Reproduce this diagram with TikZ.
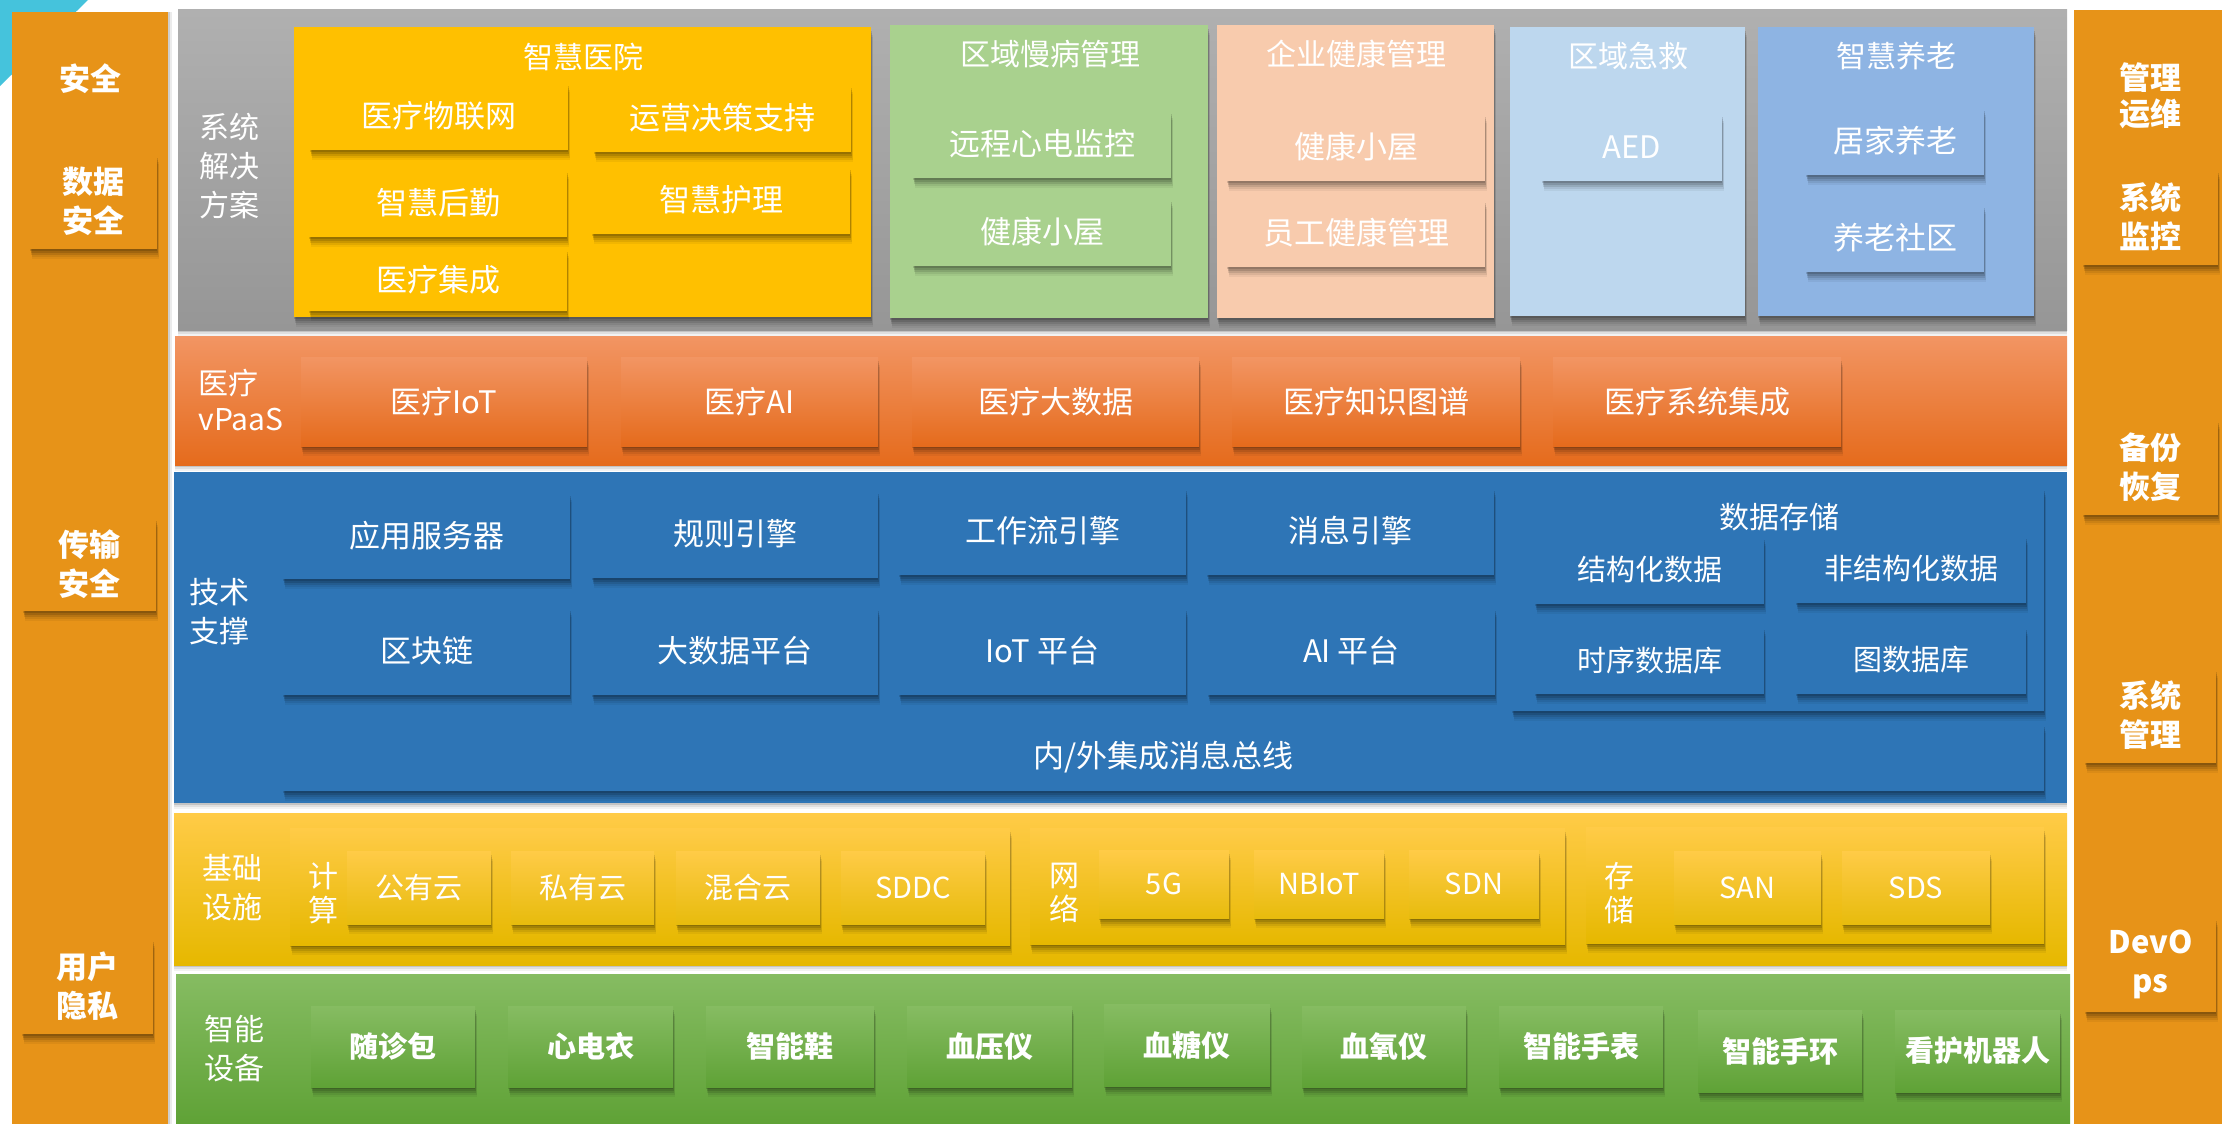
\documentclass[tikz,border=0pt]{standalone}
\usepackage{fontspec}
\setmainfont{Noto Sans CJK SC}
\usetikzlibrary{shadows}
\definecolor{sideor}{HTML}{E79318}
\definecolor{cyanc}{HTML}{45C3DC}
\definecolor{grayT}{HTML}{B0B0B0}
\definecolor{grayB}{HTML}{969696}
\definecolor{hosp}{HTML}{FFC000}
\definecolor{chron}{HTML}{A9D18E}
\definecolor{peach}{HTML}{F8CBAD}
\definecolor{ltblue}{HTML}{BDD7EE}
\definecolor{mdblue}{HTML}{8EB4E3}
\definecolor{vpT}{HTML}{F29563}
\definecolor{vpB}{HTML}{E56B1C}
\definecolor{tech}{HTML}{2E75B6}
\definecolor{infT}{HTML}{FFCB47}
\definecolor{infB}{HTML}{E6B800}
\definecolor{devT}{HTML}{86BC62}
\definecolor{devB}{HTML}{5FA236}
\newcommand\bx[7]{\node[#6, minimum width={(#4)-(#2)}, minimum height={(#5)-(#3)}] (#1) at ({((#2)+(#4))/2},{((#3)+(#5))/2}) {#7};}
\begin{document}
\begin{tikzpicture}[x=1pt,y=-1pt,
  base/.style={inner sep=0pt, outer sep=0pt, text=white, align=center, font=\fontsize{31}{38}\selectfont},
  softshadow/.style={
    drop shadow={shadow xshift=0pt, shadow yshift=-2pt, opacity=.14, fill=black},
    drop shadow={shadow xshift=1pt, shadow yshift=-4pt, opacity=.12, fill=black},
    drop shadow={shadow xshift=1pt, shadow yshift=-6pt, opacity=.10, fill=black},
    drop shadow={shadow xshift=2pt, shadow yshift=-8pt, opacity=.07, fill=black},
    drop shadow={shadow xshift=2pt, shadow yshift=-10pt, opacity=.05, fill=black}},
  bandshadow/.style={
    drop shadow={shadow xshift=0pt, shadow yshift=-2pt, opacity=.12, fill=black},
    drop shadow={shadow xshift=0pt, shadow yshift=-4pt, opacity=.08, fill=black},
    drop shadow={shadow xshift=0pt, shadow yshift=-6pt, opacity=.05, fill=black}},
  band/.style={base, bandshadow},
  sub/.style={base, softshadow},
  small/.style={font=\fontsize{29}{36}\selectfont},
  sidebar/.style={base, fill=sideor,
    drop shadow={shadow xshift=2pt, shadow yshift=0pt, opacity=0.12, fill=black},
    drop shadow={shadow xshift=4pt, shadow yshift=0pt, opacity=0.08, fill=black}},
  sidesub/.style={sub, fill=sideor, font=\bfseries\fontsize{31}{39}\selectfont},
  lbl/.style={inner sep=0pt, text=white, align=center, font=\fontsize{30}{39}\selectfont},
  lblb/.style={inner sep=0pt, text=white, align=center, font=\bfseries\fontsize{31}{36}\selectfont},
  vpsub/.style={sub, top color=vpT, bottom color=vpB},
  techsub/.style={sub, fill=tech},
  infsub/.style={sub, top color=infT, bottom color=infB!95!white, small},
  infbox/.style={sub, top color=infT, bottom color=infB},
  devsub/.style={sub, top color=devT, bottom color=devB, font=\bfseries\fontsize{29}{36}\selectfont}
]
\useasboundingbox (0,0) rectangle (2222,1124);
\fill[white] (0,0) rectangle (2222,1124);
\fill[cyanc] (0,0) -- (88,0) -- (0,86) -- cycle;

% side bars
\bx{lbar}{12}{12}{168}{1124}{sidebar}{}
\node[lblb] (lt) at (90,79) {安全};
\bx{l1}{30}{154}{157}{249}{sidesub}{数据\\安全}
\bx{l2}{23}{517}{156}{611}{sidesub}{传输\\安全}
\bx{l3}{22}{938}{153}{1034}{sidesub}{用户\\隐私}

\bx{rbar}{2074}{10}{2222}{1124}{sidebar}{}
\node[lblb] (rt) at (2150,96) {管理\\运维};
\bx{r1}{2083}{169}{2218}{265}{sidesub}{系统\\监控}
\bx{r2}{2083}{419}{2218}{515}{sidesub}{备份\\恢复}
\bx{r3}{2085}{668}{2216}{763}{sidesub}{系统\\管理}
\bx{r4}{2085}{917}{2216}{1012}{sidesub}{DevO\\ps}

% solutions layer
\bx{sol}{178}{10}{2067}{330}{band, top color=grayT, bottom color=grayB}{}
\node[lbl] (solt) at (229,166) {系统\\解决\\方案};

\bx{hosp}{294}{27}{871}{317}{sub, fill=hosp}{}
\node[lbl] (hospt) at (583,57) {智慧医院};
\bx{h1}{310}{82}{568}{150}{sub, fill=hosp}{医疗物联网}
\bx{h2}{594}{84}{851}{152}{sub, fill=hosp}{运营决策支持}
\bx{h3}{309}{169}{567}{237}{sub, fill=hosp}{智慧后勤}
\bx{h4}{592}{166}{850}{234}{sub, fill=hosp}{智慧护理}
\bx{h5}{309}{248}{567}{311}{sub, fill=hosp}{医疗集成}

\bx{chr}{890}{25}{1208}{318}{sub, fill=chron}{}
\node[lbl] (chrt) at (1050,54) {区域慢病管理};
\bx{c1}{913}{110}{1171}{178}{sub, fill=chron}{远程心电监控}
\bx{c2}{913}{198}{1171}{266}{sub, fill=chron}{健康小屋}

\bx{ent}{1217}{25}{1494}{318}{sub, fill=peach}{}
\node[lbl] (entt) at (1356,54) {企业健康管理};
\bx{e1}{1227}{113}{1485}{181}{sub, fill=peach}{健康小屋}
\bx{e2}{1227}{199}{1485}{267}{sub, fill=peach}{员工健康管理}

\bx{emg}{1510}{27}{1745}{316}{sub, fill=ltblue}{}
\node[lbl] (emgt) at (1628,56) {区域急救};
\bx{a1}{1542}{113}{1722}{181}{sub, fill=ltblue}{AED}

\bx{eld}{1758}{27}{2034}{316}{sub, fill=mdblue}{}
\node[lbl] (eldt) at (1896,56) {智慧养老};
\bx{o1}{1806}{107}{1984}{175}{sub, fill=mdblue}{居家养老}
\bx{o2}{1806}{204}{1984}{272}{sub, fill=mdblue}{养老社区}

% vPaaS layer
\bx{vp}{175}{336}{2067}{465}{band, top color=vpT, bottom color=vpB}{}
\node[lbl, align=left, font=\fontsize{30}{36}\selectfont] (vpt) at (241,400) {医疗\\vPaaS};
\bx{v1}{301}{357}{587}{446}{vpsub}{医疗IoT}
\bx{v2}{621}{357}{878}{446}{vpsub}{医疗AI}
\bx{v3}{912}{357}{1199}{446}{vpsub}{医疗大数据}
\bx{v4}{1232}{357}{1520}{446}{vpsub}{医疗知识图谱}
\bx{v5}{1553}{357}{1841}{446}{vpsub}{医疗系统集成}

% tech layer
\bx{tc}{174}{472}{2067}{803}{band, fill=tech}{}
\node[lbl] (tct) at (219,612) {技术\\支撑};
\bx{t1}{283}{492}{570}{579}{techsub}{应用服务器}
\bx{t2}{592}{490}{878}{578}{techsub}{规则引擎}
\bx{t3}{899}{487}{1186}{575}{techsub}{工作流引擎}
\bx{t4}{1207}{487}{1494}{575}{techsub}{消息引擎}
\bx{t5}{283}{607}{570}{695}{techsub}{区块链}
\bx{t6}{592}{607}{878}{695}{techsub}{大数据平台}
\bx{t7}{899}{607}{1186}{695}{techsub}{IoT 平台}
\bx{t8}{1208}{607}{1495}{695}{techsub}{AI 平台}
\bx{ds}{1512}{487}{2044}{711}{techsub}{}
\node[lbl] (dst) at (1779,517) {数据存储};
\bx{d1}{1535}{536}{1764}{604}{techsub, small}{结构化数据}
\bx{d2}{1796}{535}{2026}{603}{techsub, small}{非结构化数据}
\bx{d3}{1535}{626}{1764}{694}{techsub, small}{时序数据库}
\bx{d4}{1796}{626}{2026}{694}{techsub, small}{图数据库}
\bx{bus}{283}{723}{2044}{791}{techsub}{内/外集成消息总线}

% infrastructure layer
\bx{inf}{174}{813}{2067}{965}{band, top color=infT, bottom color=infB}{}
\node[lbl] (inft) at (232,888) {基础\\设施};
\bx{cmp}{290}{828}{1010}{945}{infbox}{}
\node[lbl, font=\fontsize{30}{34}\selectfont] (cmpt) at (323,893) {计\\算};
\bx{i1}{347}{851}{491}{924}{infsub}{公有云}
\bx{i2}{511}{851}{654}{924}{infsub}{私有云}
\bx{i3}{676}{851}{820}{924}{infsub}{混合云}
\bx{i4}{841}{851}{985}{924}{infsub}{SDDC}
\bx{net}{1030}{828}{1565}{944}{infbox}{}
\node[lbl, font=\fontsize{30}{34}\selectfont] (nett) at (1064,893) {网\\络};
\bx{n1}{1099}{850}{1229}{918}{infsub}{5G}
\bx{n2}{1254}{850}{1384}{918}{infsub}{NBIoT}
\bx{n3}{1409}{850}{1539}{918}{infsub}{SDN}
\bx{sto}{1586}{827}{2044}{943}{infbox}{}
\node[lbl, font=\fontsize{30}{34}\selectfont] (stot) at (1619,893) {存\\储};
\bx{s1}{1674}{851}{1821}{924}{infsub}{SAN}
\bx{s2}{1842}{851}{1990}{924}{infsub}{SDS}

% device layer
\bx{dev}{176}{974}{2070}{1124}{band, top color=devT, bottom color=devB}{}
\node[lbl] (devt) at (234,1049) {智能\\设备};
\bx{g1}{311}{1006}{475}{1087}{devsub}{随诊包}
\bx{g2}{508}{1006}{673}{1087}{devsub}{心电衣}
\bx{g3}{706}{1006}{874}{1087}{devsub}{智能鞋}
\bx{g4}{907}{1006}{1072}{1087}{devsub}{血压仪}
\bx{g5}{1104}{1004}{1270}{1086}{devsub}{血糖仪}
\bx{g6}{1302}{1006}{1466}{1087}{devsub}{血氧仪}
\bx{g7}{1499}{1006}{1663}{1087}{devsub}{智能手表}
\bx{g8}{1698}{1010}{1862}{1092}{devsub}{智能手环}
\bx{g9}{1895}{1010}{2060}{1092}{devsub}{看护机器人}
\end{tikzpicture}
\end{document}
